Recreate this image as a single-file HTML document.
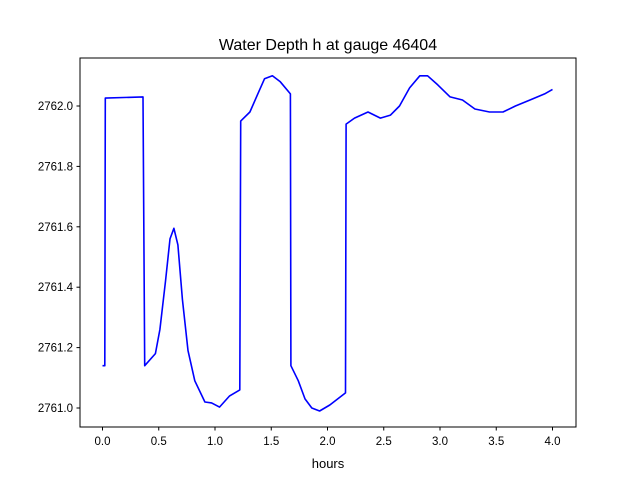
<!DOCTYPE html>
<html><head><meta charset="utf-8"><style>
body{margin:0;background:#fff;}
svg{display:block;font-family:"Liberation Sans","DejaVu Sans",sans-serif;}
</style></head><body>
<svg id="chart" width="640" height="480">
<rect width="640" height="480" fill="#fff"/>
<text x="328" y="50" text-anchor="middle" font-size="16">Water Depth h at gauge 46404</text>
<g id="plot"></g>
<rect x="80" y="58" width="496" height="369" fill="none" stroke="#000" stroke-width="1"/>
<text x="328" y="468" text-anchor="middle" font-size="13">hours</text>
</svg>
<script>
const hours=[0,0.02,0.025,0.36,0.375,0.47,0.51,0.56,0.6,0.635,0.67,0.71,0.76,0.82,0.91,0.97,1.04,1.13,1.22,1.228,1.31,1.38,1.44,1.51,1.58,1.67,1.675,1.74,1.8,1.86,1.93,2.02,2.16,2.165,2.24,2.36,2.47,2.56,2.64,2.73,2.82,2.89,2.98,3.09,3.2,3.31,3.44,3.56,3.67,3.8,3.93,4.0];
const depth=[2761.14,2761.14,2762.026,2762.03,2761.14,2761.18,2761.26,2761.42,2761.56,2761.595,2761.54,2761.36,2761.19,2761.09,2761.02,2761.017,2761.003,2761.04,2761.06,2761.95,2761.98,2762.04,2762.09,2762.1,2762.08,2762.04,2761.14,2761.09,2761.03,2761.0,2760.99,2761.01,2761.05,2761.94,2761.96,2761.98,2761.96,2761.97,2762.0,2762.06,2762.1,2762.1,2762.07,2762.03,2762.02,2761.99,2761.98,2761.98,2762.0,2762.02,2762.04,2762.055];
const xTicks=[0,0.5,1,1.5,2,2.5,3,3.5,4];
const yTicks=[2761.0,2761.2,2761.4,2761.6,2761.8,2762.0];
const X=t=>102.5+t*112.5;
const Y=v=>106-(v-2762)*302;
const NS="http://www.w3.org/2000/svg";
const g=document.getElementById('plot');
function mk(tag,attrs){const e=document.createElementNS(NS,tag);for(const k in attrs)e.setAttribute(k,attrs[k]);g.appendChild(e);return e;}
xTicks.forEach(t=>{
  const l=mk('line',{x1:X(t),x2:X(t),y1:427,y2:430.5,stroke:'#000'});
  
  
  const tx=mk('text',{x:X(t),y:445,'text-anchor':'middle','font-size':'11.5'});
  tx.textContent=t.toFixed(1);
  
  
});
yTicks.forEach(v=>{
  const l=mk('line',{x1:76.5,x2:80,y1:Y(v),y2:Y(v),stroke:'#000'});
  
  
  const tx=mk('text',{x:73,y:Y(v)+4,'text-anchor':'end','font-size':'11.5'});
  tx.textContent=v.toFixed(1);
  
  
});
const pts=hours.map((t,i)=>X(t).toFixed(1)+','+Y(depth[i]).toFixed(1)).join(' ');
const line=mk('polyline',{points:pts,fill:'none',stroke:'#0000ff','stroke-width':'1.6','stroke-linejoin':'round'});


</script>
</body></html>
